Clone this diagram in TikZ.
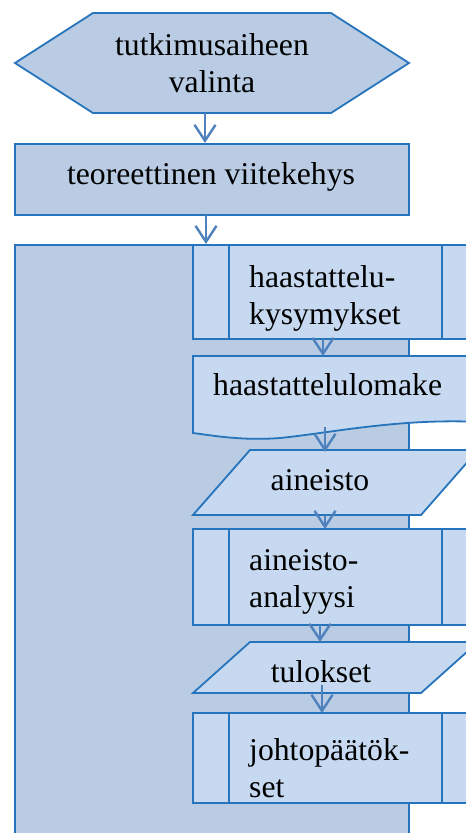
\documentclass[tikz,border=0pt]{standalone}
\usepackage{fontspec}
\setmainfont{Liberation Serif}
\usetikzlibrary{arrows.meta}
\definecolor{edgeblue}{RGB}{38,116,188}
\definecolor{arrowblue}{RGB}{79,129,189}
\definecolor{panelfill}{RGB}{185,204,228}
\definecolor{boxfill}{RGB}{198,217,240}
\begin{document}
\begin{tikzpicture}[x=1pt,y=-1pt,
  shapeline/.style={draw=edgeblue,line width=1.8pt},
  panel/.style={shapeline,fill=panelfill},
  boxshape/.style={shapeline,fill=boxfill},
  flow/.style={draw=arrowblue,line width=2.4pt,-{Straight Barb[length=16pt,width=21pt,line width=2.4pt]}},
  txt/.style={inner sep=0pt,font=\fontsize{31.7}{37}\selectfont,text=black}]
\useasboundingbox (0,0) rectangle (466,833);
\begin{scope}
\clip (0,0) rectangle (466,833);
% start: hexagon
\draw[panel] (15,63) -- (93,13) -- (331,13) -- (409,63) -- (331,113) -- (93,113) -- cycle;
\node[txt,align=center,anchor=north] (topic) at (212,33) {tutkimusaiheen\\valinta};
\coordinate (topicS) at (205,113);
% theory frame
\draw[panel] (15,144) rectangle (409,215);
\node[txt,anchor=base] (theory) at (211,184) {teoreettinen viitekehys};
\coordinate (theoryN) at (205,143);
\coordinate (theoryS) at (206,215);
% large panel holding the research steps
\draw[panel] (15,245) rectangle (409,870);
\coordinate (panelN) at (206,244);
% predefined process: interview questions
\draw[boxshape] (193,245) rectangle (478,339);
\draw[shapeline] (229,245) -- (229,339) (442,245) -- (442,339);
\node[txt,align=left,anchor=north west] (questions) at (249,265) {haastattelu-\\kysymykset};
\coordinate (questionsS) at (323,339);
% document: interview form
\draw[boxshape] (193,356) -- (480,356) -- (480,422)
  .. controls (400,418) and (330,433) .. (280,438)
  .. controls (240,441) and (210,435) .. (193,433) -- cycle;
\node[txt,anchor=base west] (form) at (213,395) {haastattelulomake};
\coordinate (formN) at (323,356);
\coordinate (formS) at (325,427);
% data: parallelogram
\draw[boxshape] (193,515) -- (250,450) -- (478,450) -- (421,515) -- cycle;
\node[txt,anchor=base] (data) at (320,490) {aineisto};
\coordinate (dataN) at (325,452);
\coordinate (dataS) at (325,515);
% predefined process: analysis
\draw[boxshape] (193,529) rectangle (478,625);
\draw[shapeline] (229,529) -- (229,625) (442,529) -- (442,625);
\node[txt,align=left,anchor=north west] (analysis) at (249,549) {aineisto-\\analyysi};
\coordinate (analysisN) at (325,529);
\coordinate (analysisS) at (320,625);
% results: parallelogram
\draw[boxshape] (193,693) -- (250,642) -- (478,642) -- (421,693) -- cycle;
\node[txt,anchor=base] (results) at (321,682) {tulokset};
\coordinate (resultsN) at (320,642);
\coordinate (resultsS) at (322,685);
% predefined process: conclusions
\draw[boxshape] (193,713) rectangle (478,803);
\draw[shapeline] (229,713) -- (229,803) (442,713) -- (442,803);
\node[txt,align=left,anchor=north west] (conclusions) at (249,738) {johtopäätök-\\set};
\coordinate (conclusionsN) at (322,713);
% connectors
\draw[flow] (topicS) -- (theoryN);
\draw[flow] (theoryS) -- (panelN);
\draw[flow] (questionsS) -- (formN);
\draw[flow] (formS) -- (dataN);
\draw[flow] (dataS) -- (analysisN);
\draw[flow] (analysisS) -- (resultsN);
\draw[flow] (resultsS) -- (conclusionsN);
\end{scope}
\end{tikzpicture}
\end{document}
